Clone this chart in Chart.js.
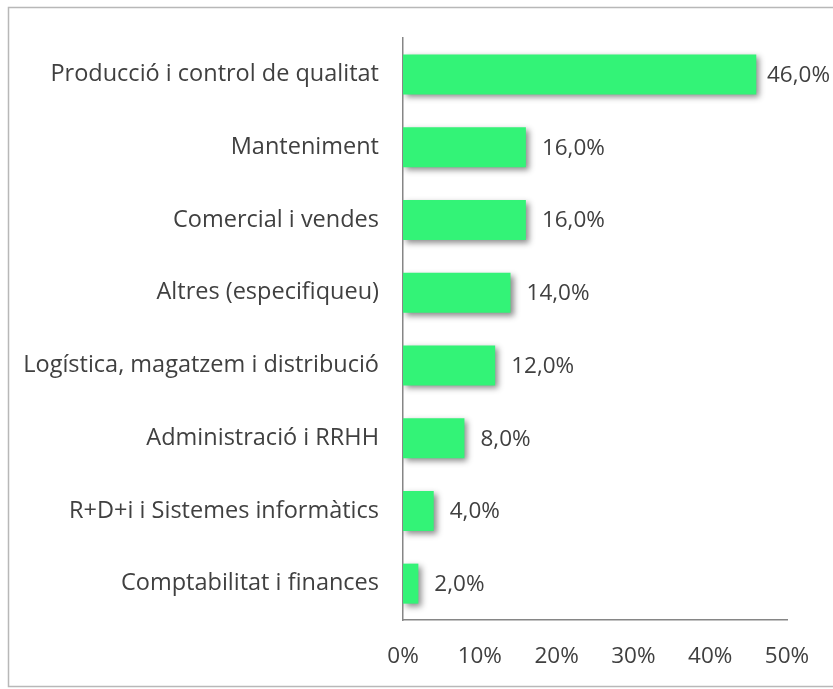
<!DOCTYPE html>
<html><head><meta charset="utf-8">
<script src="https://cdn.jsdelivr.net/npm/chart.js@4"></script>
<style>html,body{margin:0;padding:0;background:#fff}#wrap{width:833px;height:689px;position:relative}</style>
</head><body><div id="wrap"><canvas id="c" width="833" height="689"></canvas></div>
<script>
const categories = ["Producció i control de qualitat","Manteniment","Comercial i vendes","Altres (especifiqueu)","Logística, magatzem i distribució","Administració i RRHH","R+D+i i Sistemes informàtics","Comptabilitat i finances"];
const values = [46,16,16,14,12,8,4,2];
const xTicks = [0,10,20,30,40,50];

const FONT = "'Open Sans', sans-serif";
const TXT = '#404040';

const borderPlugin = {
  id:'border',
  beforeDraw(chart){
    const c = chart.ctx;
    c.save(); c.fillStyle='#fff'; c.fillRect(0,0,chart.width,chart.height);
    c.strokeStyle='#b8b8b8'; c.lineWidth=1.5;
    c.strokeRect(8.5,7.5,840,679);
    c.restore();
  }
};
const shadowPlugin = {
  id:'shadow',
  beforeDatasetDraw(chart){
    const c=chart.ctx; c.save();
    c.shadowColor='rgba(0,0,0,0.45)'; c.shadowBlur=6; c.shadowOffsetX=3; c.shadowOffsetY=3;
  },
  afterDatasetDraw(chart){ chart.ctx.restore(); }
};
const labelPlugin = {
  id:'vlabels',
  afterDatasetsDraw(chart){
    const c=chart.ctx; const meta=chart.getDatasetMeta(0);
    c.save(); c.font='22.5px '+FONT; c.fillStyle=TXT; c.textAlign='left'; c.textBaseline='middle';
    meta.data.forEach((el,i)=>{
      const t=values[i].toFixed(1).replace('.',',')+'%';
      const w=c.measureText(t).width;
      c.fillText(t, Math.min(el.x+16, 830-w), el.y+1);
    });
    c.restore();
  }
};

new Chart(document.getElementById('c'),{
  type:'bar',
  data:{labels:categories,datasets:[{data:values,backgroundColor:'#33F377',borderWidth:0,barPercentage:0.55,categoryPercentage:1}]},
  options:{
    indexAxis:'y',responsive:false,animation:false,
    layout:{padding:{left:0,right:46,top:37,bottom:0}},
    plugins:{legend:{display:false},tooltip:{enabled:false}},
    scales:{
      x:{min:0,max:50,afterBuildTicks(s){s.ticks=xTicks.map(v=>({value:v}));},
        grid:{display:false,drawTicks:false},
        border:{display:true,color:'#868686',width:1.5},
        ticks:{padding:23,color:TXT,font:{size:22.5,family:FONT},callback:v=>v+'%'},
        afterFit(s){s.height=69;}
      },
      y:{grid:{display:false,drawTicks:false},
        border:{display:true,color:'#868686',width:1.5},
        ticks:{padding:24,color:TXT,font:{size:23.5,family:FONT}},
        afterFit(s){s.width=403;}
      }
    }
  },
  plugins:[borderPlugin,shadowPlugin,labelPlugin]
});
</script></body></html>
